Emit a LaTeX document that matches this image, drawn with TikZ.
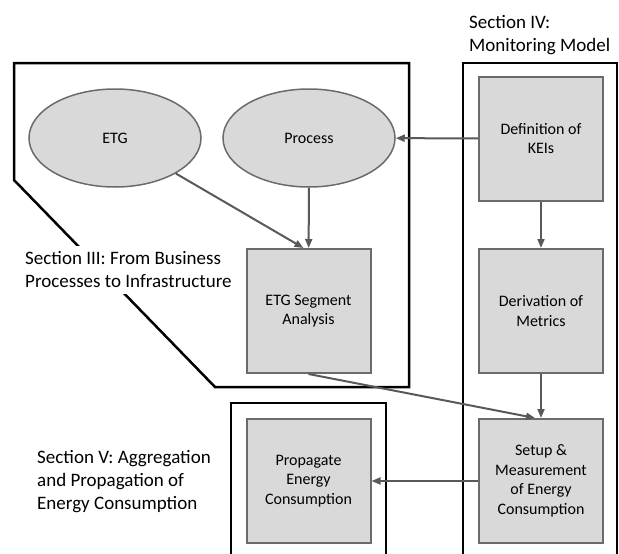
\documentclass[tikz,border=0pt]{standalone}
\usepackage{fontspec}
\setmainfont{Carlito}
\usepackage{tikz}
\usetikzlibrary{shapes.geometric,arrows.meta}
\definecolor{boxfill}{HTML}{D9D9D9}
\definecolor{boxline}{HTML}{6B6B6B}
\definecolor{linkcol}{HTML}{595959}

\begin{document}
\begin{tikzpicture}[x=1pt,y=-1pt,
	task/.style={draw=boxline, fill=boxfill, line width=2pt, minimum width=124pt, minimum height=124pt, align=center, font=\fontsize{16}{19.5}\selectfont},
	entity/.style={ellipse, draw=boxline, fill=boxfill, line width=1.5pt, minimum width=172pt, minimum height=98pt, font=\fontsize{16}{19.5}\selectfont},
	link/.style={draw=linkcol, line width=2pt, -{Triangle[length=9pt,width=7pt]}},
	frame/.style={draw=black, line width=2.5pt},
	section/.style={align=left, inner sep=0pt, anchor=north west, font=\fontsize{19}{23}\selectfont}]
	\useasboundingbox (0,0) rectangle (619,554);
	\draw[frame] (14,63) -- (409,63) -- (409,387) -- (215,387) -- (14,180) -- cycle;
	\draw[frame] (463,554) -- (463,63) -- (617,63) -- (617,554);
	\draw[frame] (231,554) -- (231,403) -- (386,403) -- (386,554);
	\node[section] (secfour) at (469,15.5) {Section IV:\\Monitoring Model};
	\node[section, fill=white, inner xsep=4pt, inner ysep=6pt] (secthree) at (21,245.5) {Section III: From Business\\Processes to Infrastructure};
	\node[section] (secfive) at (37,450.5) {Section V: Aggregation\\and Propagation of\\Energy Consumption};
	\node[entity] (etg) at (115,138) {ETG};
	\node[entity] (process) at (309,138) {Process};
	\node[task] (segment) at (308.5,311) {ETG Segment\\Analysis};
	\node[task] (kei) at (541,138.5) {Definition of\\KEIs};
	\node[task] (metrics) at (541,311) {Derivation of\\Metrics};
	\node[task] (setup) at (541,481) {Setup \&\\Measurement\\of Energy\\Consumption};
	\node[task] (propagate) at (308.5,481) {Propagate\\Energy\\Consumption};
	\draw[link] (kei) -- (process);
	\draw[link] (etg) -- ([xshift=-5pt]segment.north);
	\draw[link] (process) -- (segment);
	\draw[link] (kei) -- (metrics);
	\draw[link] (metrics) -- (setup);
	\draw[link] (segment.south) -- ([xshift=-6pt]setup.north);
	\draw[link] (setup) -- (propagate);
\end{tikzpicture}
\end{document}
